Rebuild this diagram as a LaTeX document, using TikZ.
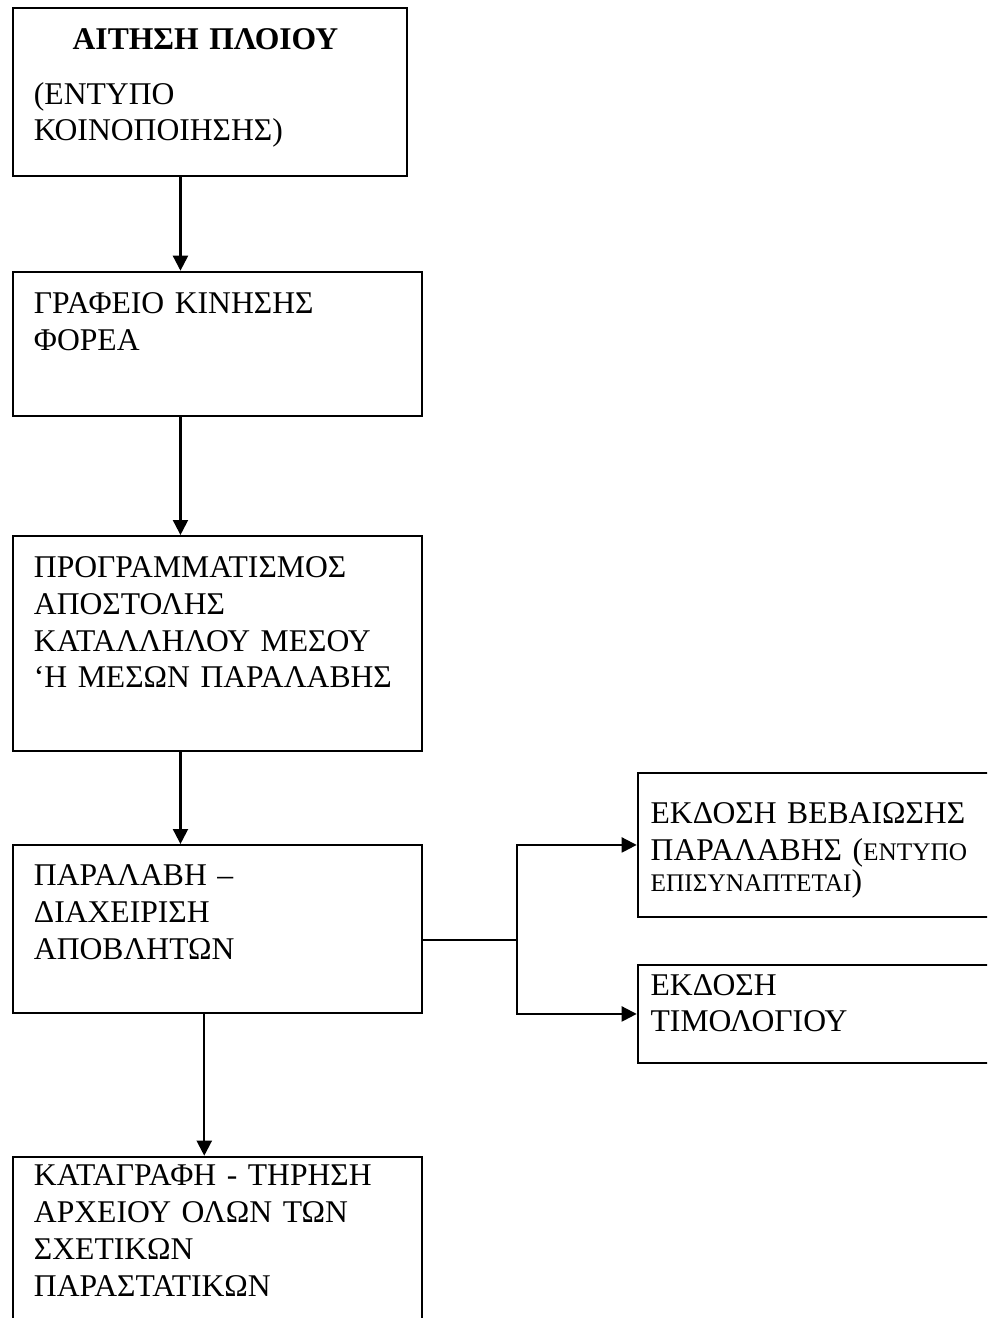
\documentclass[tikz,border=0pt]{standalone}
\usepackage{fontspec}
\setmainfont{Liberation Serif}
\usetikzlibrary{arrows.meta}
\tikzset{
    box/.style={draw, line width=1.1pt, anchor=north west, align=left, inner ysep=0pt, inner xsep=0.414cm, font=\fontsize{18}{20.9}\selectfont},
    sidebox/.style={box, inner xsep=0.26cm, text width=7cm},
    arr/.style={line width=1.2pt, -{Triangle[length=0.3cm,width=0.3cm]}}
}
\newcommand{\fakesc}[1]{{\fontsize{14.4}{20.9}\selectfont #1}}

\begin{document}
\begin{tikzpicture}[x=0.02cm,y=-0.02cm]
    \clip (0,0) rectangle (987,1318);
    % main column
    \node[box, text width=7.046cm, text height=0.832cm, text depth=2.528cm] (req) at (12.3,6.7)
        {\hspace*{0.774cm}\textbf{ΑΙΤΗΣΗ ΠΛΟΙΟΥ}\\[0.366cm](ΕΝΤΥΠΟ\\ΚΟΙΝΟΠΟΙΗΣΗΣ)};
    \node[box, text width=7.34cm, text height=0.84cm, text depth=2.04cm] (office) at (12.3,270.7)
        {ΓΡΑΦΕΙΟ ΚΙΝΗΣΗΣ\\ΦΟΡΕΑ};
    \node[box, text width=7.34cm, text height=0.834cm, text depth=3.466cm] (plan) at (12.3,535)
        {ΠΡΟΓΡΑΜΜΑΤΙΣΜΟΣ\\ΑΠΟΣΤΟΛΗΣ\\ΚΑΤΑΛΛΗΛΟΥ ΜΕΣΟΥ\\‘Η ΜΕΣΩΝ ΠΑΡΑΛΑΒΗΣ};
    \node[box, text width=7.34cm, text height=0.82cm, text depth=2.546cm] (recv) at (12.3,844)
        {ΠΑΡΑΛΑΒΗ –\\ΔΙΑΧΕΙΡΙΣΗ\\ΑΠΟΒΛΗΤΩΝ};
    \node[box, text width=7.34cm, text height=0.586cm, text depth=4cm] (rec) at (12.3,1155.7)
        {ΚΑΤΑΓΡΑΦΗ - ΤΗΡΗΣΗ\\ΑΡΧΕΙΟΥ ΟΛΩΝ ΤΩΝ\\ΣΧΕΤΙΚΩΝ\\ΠΑΡΑΣΤΑΤΙΚΩΝ};
    % side boxes
    \node[sidebox, text height=1.014cm, text depth=1.854cm] (cert) at (636.7,772.3)
        {ΕΚΔΟΣΗ ΒΕΒΑΙΩΣΗΣ\\ΠΑΡΑΛΑΒΗΣ (\fakesc{ΕΝΤΥΠΟ}\\[-0.11cm]\fakesc{ΕΠΙΣΥΝΑΠΤΕΤΑΙ})};
    \node[sidebox, text height=0.6cm, text depth=1.348cm] (inv) at (636.7,964.3)
        {ΕΚΔΟΣΗ\\ΤΙΜΟΛΟΓΙΟΥ};
    %
    \draw[arr] ([xshift=3.364cm]req.south west) -- ([xshift=3.364cm]office.north west);
    \draw[arr] ([xshift=3.364cm]office.south west) -- ([xshift=3.364cm]plan.north west);
    \draw[arr] ([xshift=3.364cm]plan.south west) -- ([xshift=3.364cm]recv.north west);
    \draw[arr] ([xshift=3.84cm]recv.south west) -- ([xshift=3.84cm]rec.north west);
    %
    \coordinate (fork) at (516.7,940);
    \draw[line width=1.2pt] (recv.east |- fork) -- (fork);
    \draw[arr] (fork) |- (cert.west);
    \draw[arr] (fork) |- (inv.west);
\end{tikzpicture}
\end{document}
